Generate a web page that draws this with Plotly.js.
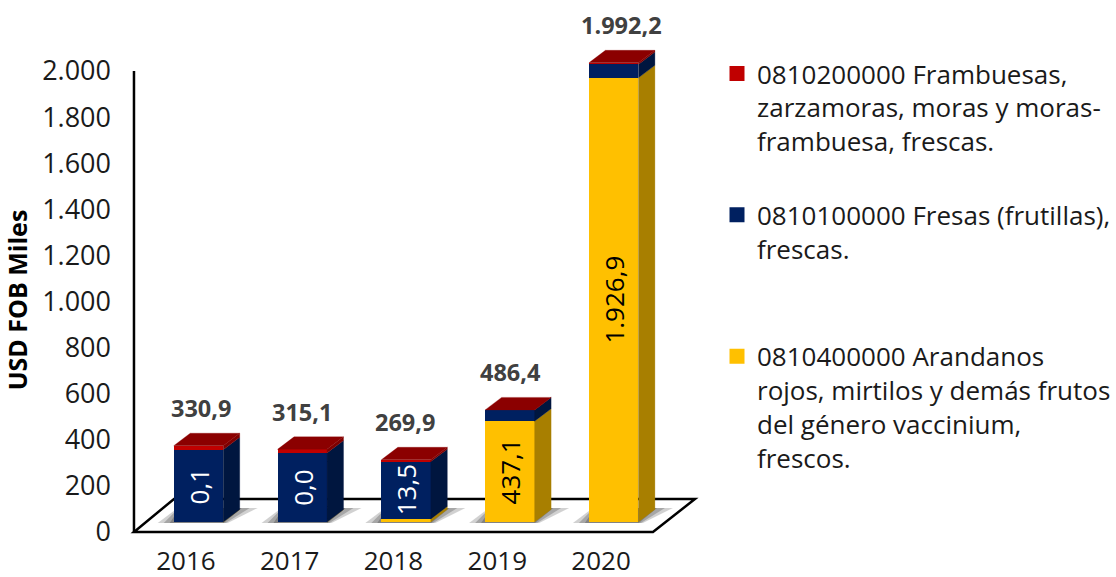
<!DOCTYPE html>
<html><head><meta charset="utf-8">
<script src="https://cdn.plot.ly/plotly-3.0.1.min.js"></script>
<style>html,body{margin:0;padding:0;background:#fff}#c{width:1116px;height:577px}</style>
</head><body><div id="c"></div>
<script>
var years = ['2016','2017','2018','2019','2020'];
var yellow = [0.1, 0.0, 13.5, 437.1, 1926.9];
var blue = [312.8, 299.1, 248.4, 48.9, 58.3];
var red = [18.0, 16.0, 8.0, 0.4, 7.0];
var totalLabels = ['330,9','315,1','269,9','486,4','1.992,2'];
var insideLabels = ['0,1','0,0','13,5','437,1','1.926,9'];
var seriesNames = ['0810200000 Frambuesas,<br>zarzamoras, moras y moras-<br>frambuesa, frescas.',
  '0810100000 Fresas (frutillas),<br>frescas.<br>&nbsp;',
  '0810400000 Arandanos<br>rojos, mirtilos y demás frutos<br>del género vaccinium,<br>frescos.'];

var FONT = '"Open Sans", sans-serif';
var PXX = 103.8, PXY = 0.2305;
var ux = function(p){return p/PXX;}, uy = function(p){return p/PXY;};
var cx = years.map(function(_,i){return i + ux(64.5);});   // bar centre on axis units
var W = ux(49.5), LIFT = uy(10), DX = ux(16.5), DY = uy(12.5);

var c = {red:['#C00000','#7E0000','#8B0000'], blue:['#002060','#00163F'], yellow:['#FFC000','#A87F00']};
var base0 = yellow.map(function(){return LIFT;});
var baseB = yellow.map(function(v){return LIFT+v;});
var baseR = yellow.map(function(v,i){return LIFT+v+blue[i];});

function barTrace(vals, base, col, name, g){
  return {type:'bar', x:cx, y:vals, base:base, width:W, name:name, legendgroup:g,
    marker:{color:col, line:{width:0}}, hoverinfo:'skip', showlegend:false};
}
function keyTrace(col, name, g){
  return {type:'bar', x:[null], y:[null], name:name, legendgroup:g, showlegend:true,
    marker:{color:col, line:{color:col, width:3}}, hoverinfo:'skip'};
}
function sideTrace(vals, base, col){
  var xs=[], ys=[];
  vals.forEach(function(v,i){
    var r=cx[i]+W/2, b=base[i], t=b+v;
    xs.push(r,r+DX,r+DX,r,r,null); ys.push(b,b+DY,t+DY,t,b,null);
  });
  return {type:'scatter', mode:'lines', x:xs, y:ys, fill:'toself', fillcolor:col,
    line:{color:col,width:0.3}, showlegend:false, hoverinfo:'skip'};
}
function topTrace(){
  var xs=[], ys=[];
  years.forEach(function(_,i){
    var l=cx[i]-W/2, r=cx[i]+W/2, t=baseR[i]+red[i];
    xs.push(l,r,r+DX,l+DX,l,null); ys.push(t,t,t+DY,t+DY,t,null);
  });
  return {type:'scatter', mode:'lines', x:xs, y:ys, fill:'toself', fillcolor:c.red[2],
    line:{color:c.red[2],width:0.3}, showlegend:false, hoverinfo:'skip'};
}
var traces = [
  keyTrace(c.red[0], seriesNames[0], 'a'), keyTrace(c.blue[0], seriesNames[1], 'b'), keyTrace(c.yellow[0], seriesNames[2], 'c'),
  barTrace(yellow, base0, c.yellow[0], 'y', 'c'), barTrace(blue, baseB, c.blue[0], 'b', 'b'), barTrace(red, baseR, c.red[0], 'r', 'a'),
  sideTrace(yellow, base0, c.yellow[1]), sideTrace(blue, baseB, c.blue[1]), sideTrace(red, baseR, c.red[1]), topTrace()
];

// floor, axis line and soft shadows live underneath the bars
var shapes = [];
shapes.push({type:'path', layer:'below', xref:'x', yref:'y', fillcolor:'#fff', line:{color:'#000',width:2.5},
  path:'M0,0 L5,0 L'+(5+ux(42))+','+uy(33)+' L'+ux(40)+','+uy(33)+' Z'});
shapes.push({type:'line', layer:'below', xref:'x', yref:'y', x0:0,x1:0,y0:0,y1:2000, line:{color:'#000',width:2.5}});
years.forEach(function(_,i){
  var l=cx[i]-W/2;
  [[-16,54,4,84,0.3],[-10,52,5,76,0.4],[-4,50,6,68,0.55]].forEach(function(s){
    var y0=uy(9), y1=uy(24);
    shapes.push({type:'path', layer:'below', xref:'x', yref:'y', fillcolor:'#666666', opacity:s[4], line:{width:0},
      path:'M'+(l+ux(s[0]))+','+y0+' L'+(l+ux(s[1]))+','+y0+' L'+(l+ux(s[3]))+','+y1+' L'+(l+ux(s[2]))+','+y1+' Z'});
  });
});

var anns = [];
var nudge = [3,0,-1,1,8];
years.forEach(function(_,i){
  var t = baseR[i]+red[i]+DY;
  anns.push({xref:'x',yref:'y',x:cx[i],y:t,xshift:nudge[i],yshift:25,text:totalLabels[i],showarrow:false,
    font:{family:FONT,size:23.5,color:'#404040',weight:700},xanchor:'center',yanchor:'middle'});
  var inYellow = yellow[i] > 100;
  var mid = inYellow ? base0[i]+yellow[i]/2 : baseB[i]+blue[i]/2;
  anns.push({xref:'x',yref:'y',x:cx[i],y:mid,text:insideLabels[i],showarrow:false,textangle:-90,
    font:{family:FONT,size:26,color:inYellow?'#000':'#fff'},xanchor:'center',yanchor:'middle'});
});

var layout = {
  width:1116, height:577, separators:',.',
  margin:{l:129,r:380,t:25,b:2,autoexpand:false},
  paper_bgcolor:'#fff', plot_bgcolor:'rgba(0,0,0,0)', barmode:'overlay', bargap:0,
  font:{family:FONT,color:'#1a1a1a'},
  xaxis:{range:[-0.048,5.8], tickvals:years.map(function(_,i){return i+0.5;}), ticktext:years, showgrid:false, zeroline:false,
    showline:false, ticks:'', anchor:'free', position:43/550, ticklabelstandoff:11, tickfont:{size:26,family:FONT,color:'#1a1a1a'}},
  yaxis:{range:[-186.6,2199.6], tickvals:[0,200,400,600,800,1000,1200,1400,1600,1800,2000], tickformat:',d', showgrid:false, zeroline:false,
    showline:false, ticks:'', ticklabelstandoff:17, tickfont:{size:27,family:FONT,color:'#1a1a1a'},
    title:{text:'USD FOB Miles', standoff:7, font:{size:25,family:FONT,color:'#000',weight:700}}},
  legend:{x:(717-129)/607, xanchor:'left', y:1-(50-25)/550, yanchor:'top', valign:'top', tracegroupgap:37,
    bgcolor:'rgba(0,0,0,0)', font:{size:26,family:FONT,color:'#1a1a1a'}, itemclick:false, itemdoubleclick:false},
  shapes:shapes, annotations:anns
};
Plotly.newPlot('c', traces, layout, {staticPlot:true, displayModeBar:false});
</script></body></html>
